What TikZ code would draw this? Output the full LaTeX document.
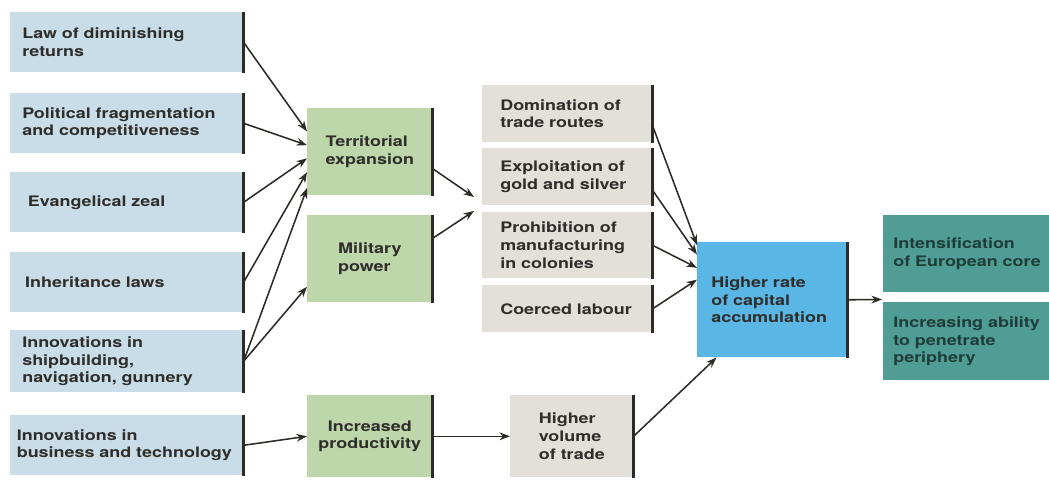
\documentclass[tikz,border=0pt]{standalone}
\usepackage{fontspec}
\setmainfont{TeX Gyre Heros}[FakeStretch = 1.24]
\usetikzlibrary{positioning}
\usetikzlibrary{arrows.meta}

\definecolor{causeblue}{HTML}{C9DDE8}
\definecolor{stagegreen}{HTML}{BDD6AA}
\definecolor{tradegrey}{HTML}{E3E0DA}
\definecolor{capitalblue}{HTML}{5AB6E4}
\definecolor{outcometeal}{HTML}{4F9D95}
\definecolor{barbrown}{HTML}{2E2B26}
\definecolor{inkgrey}{HTML}{2F2D2A}
\definecolor{tealink}{HTML}{1F3D38}

\tikzset{
	box/.style = {anchor = north west, inner ysep = 0pt, text = inkgrey, font = \fontsize{10.3}{12.6}\selectfont\bfseries},
	cause/.style = {box, fill = causeblue, minimum height = 1.5cm, text width = 5.225cm, inner xsep = 0.3cm, align = left},
	stage/.style = {box, fill = stagegreen, minimum width = 3.125cm, minimum height = 2.175cm, align = left},
	trade/.style = {box, fill = tradegrey, text width = 3.35cm, inner xsep = 0.45cm, align = left},
	capital/.style = {box, fill = capitalblue, minimum height = 2.875cm, text width = 3.05cm, inner xsep = 0.35cm, align = left},
	outcome/.style = {box, fill = outcometeal, text = tealink, text width = 3.9cm, inner xsep = 0.25cm, align = left},
	bar/.style = {draw = barbrown, line width = 2pt},
	link/.style = {draw = barbrown, line width = 1.1pt, -{Stealth[length = 7.5pt, width = 5.5pt]}}
}

\begin{document}
\begin{tikzpicture}[x = 0.025cm, y = -0.025cm]
	\useasboundingbox (0, 0) rectangle (1049, 479);

	\node[cause] (law) at (10, 12) {Law of diminishing\\returns};
	\node[cause] (politics) at (10, 93) {Political fragmentation\\and competitiveness};
	\node[cause] (zeal) at (10, 172) {\hspace*{4pt}Evangelical zeal};
	\node[cause] (inherit) at (10, 252) {\hspace*{2pt}Inheritance laws};
	\node[cause, minimum height = 1.55cm] (navtech) at (10, 330) {Innovations in\\shipbuilding,\\navigation, gunnery};
	\node[cause, text width = 5.5cm, inner xsep = 0.1625cm] (biztech) at (10, 415) {Innovations in\\business and technology};

	\node[stage] (expansion) at (307, 108) {Territorial\\expansion};
	\node[stage] (military) at (307, 215) {Military\\power};
	\node[stage, minimum height = 2.05cm, align = center] (productivity) at (307, 395) {Increased\\productivity};

	\node[trade, minimum height = 1.425cm] (routes) at (482, 85) {Domination of\\trade routes};
	\node[trade, minimum height = 1.425cm] (bullion) at (482, 148) {Exploitation of\\gold and silver};
	\node[trade, minimum height = 1.65cm] (prohibition) at (482, 212) {Prohibition of\\manufacturing\\in colonies};
	\node[trade, minimum height = 1.175cm] (labour) at (482, 285) {Coerced labour};
	\node[box, fill = tradegrey, minimum width = 3.075cm, minimum height = 2.05cm, align = left] (volume) at (510, 395) {Higher\\volume\\of trade};

	\node[capital] (accumulation) at (697, 242) {Higher rate\\of capital\\accumulation};

	\node[outcome, minimum height = 1.925cm] (core) at (883, 215) {Intensification\\of European core};
	\node[outcome, minimum height = 1.95cm] (periphery) at (883, 302) {Increasing ability\\to penetrate\\periphery};

	\foreach \n in {law, politics, zeal, inherit, navtech, biztech, expansion, military, productivity, routes, bullion, prohibition, labour, volume, accumulation}
		\draw[bar] (\n.north east) -- (\n.south east);

	\coordinate (mergeA) at (474, 197);
	\coordinate (mergeB) at (474, 211);
	\coordinate (split) at (882, 299.5);

	\draw[link] (law.east) -- (expansion.162.7);
	\draw[link] (politics.east) -- (expansion.174);
	\draw[link] (zeal.east) -- (expansion.186);
	\draw[link] (inherit.east) -- (expansion.198);
	\draw[link] (navtech.east) -- (expansion.210);
	\draw[link] (navtech.east) -- (military.204.5);
	\draw[link] (biztech.east) -- (productivity.west);

	\draw[link] (expansion.345) -- (mergeA);
	\draw[link] (military.18) -- (mergeB);
	\draw[link] (productivity.east) -- (volume.west);

	\draw[link] (routes.352) -- (accumulation.144.5);
	\draw[link] (bullion.351) -- (accumulation.149.9);
	\draw[link] (prohibition.east) -- (accumulation.157.2);
	\draw[link] (labour.east) -- (accumulation.165.4);
	\draw[link] (volume.east) -- (accumulation.226.3);

	\draw[link] (accumulation.east) -- (split);
\end{tikzpicture}
\end{document}
